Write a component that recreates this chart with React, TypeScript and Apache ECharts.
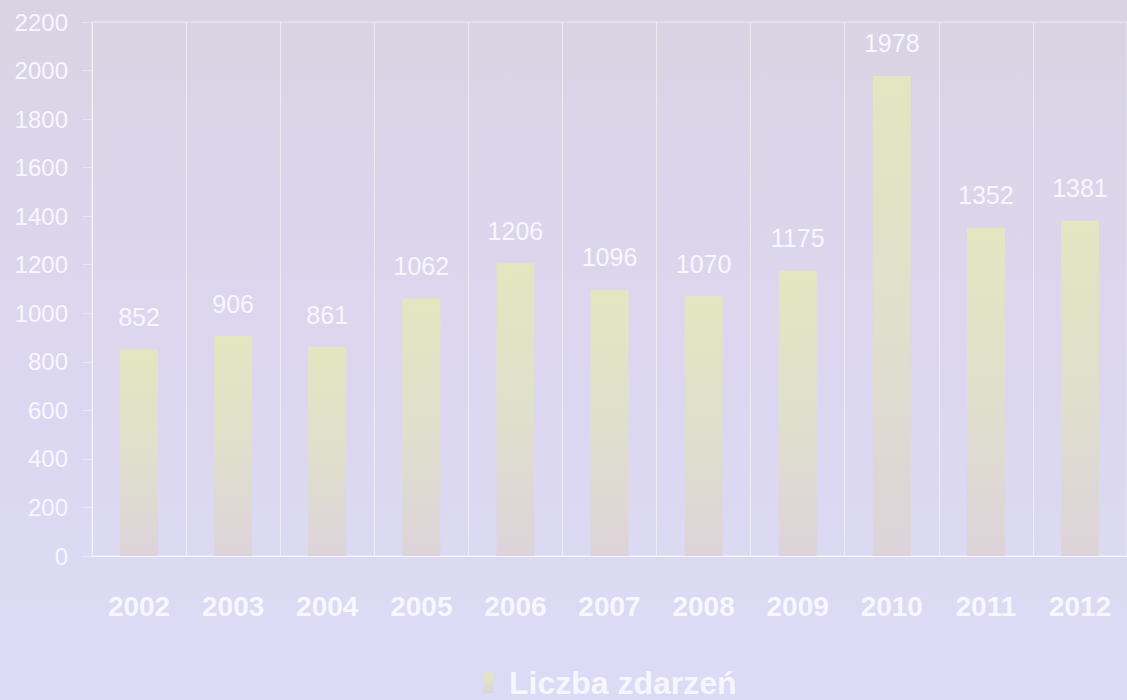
import React, { useEffect, useRef } from "react";
import * as echarts from "echarts";

const categories = ["2002", "2003", "2004", "2005", "2006", "2007", "2008", "2009", "2010", "2011", "2012"];
const values = [852, 906, 861, 1062, 1206, 1096, 1070, 1175, 1978, 1352, 1381];
const seriesName = "Liczba zdarzeń";
const yMin = 0;
const yMax = 2200;
const yStep = 200;

export default function App() {
  const ref = useRef<HTMLDivElement>(null);
  useEffect(() => {
    if (!ref.current) return;
    const chart = echarts.init(ref.current, null, { renderer: "svg" });
    const font = "'Liberation Sans', Arial, sans-serif";
    const barGrad = new echarts.graphic.LinearGradient(0, 0, 0, 1, [
      { offset: 0, color: "#e3e6c0" },
      { offset: 0.5, color: "#dfe0cc" },
      { offset: 1, color: "#ddd3da" },
    ]);
    chart.setOption({
      animation: false,
      backgroundColor: new echarts.graphic.LinearGradient(0, 0, 0, 1, [
        { offset: 0, color: "#d8d4e2" },
        { offset: 0.45, color: "#dcd6ef" },
        { offset: 1, color: "#dcdbf5" },
      ]),
      textStyle: { fontFamily: font },
      grid: {
        left: 92,
        top: 22,
        width: 1037,
        height: 534,
        show: true,
        borderColor: "rgba(255,255,255,0.55)",
        borderWidth: 1,
        backgroundColor: "transparent",
      },
      legend: {
        data: [seriesName],
        left: 478,
        top: 662,
        itemWidth: 11,
        itemHeight: 20,
        icon: "rect",
        textStyle: {
          color: "#f7f6ff",
          fontSize: 32,
          fontWeight: "bold",
          fontFamily: font,
          padding: [0, 0, 0, 10],
        },
      },
      xAxis: {
        type: "category",
        data: categories,
        boundaryGap: true,
        axisLine: { show: true, lineStyle: { color: "rgba(255,255,255,0.6)", width: 1 } },
        axisTick: { show: false },
        splitLine: { show: true, interval: 0, lineStyle: { color: "rgba(255,255,255,0.5)", width: 1 } },
        axisLabel: {
          color: "#f8f7ff",
          fontSize: 28,
          fontWeight: "bold",
          margin: 36,
          interval: 0,
          fontFamily: font,
        },
      },
      yAxis: {
        type: "value",
        min: yMin,
        max: yMax,
        interval: yStep,
        axisLine: { show: false },
        axisTick: { show: true, length: 10, lineStyle: { color: "rgba(255,255,255,0.35)" } },
        splitLine: { show: false },
        axisLabel: {
          color: "#f8f7ff",
          fontSize: 24,
          margin: 24,
          fontFamily: font,
          formatter: (v: number) => String(v),
        },
      },
      series: [
        {
          name: seriesName,
          type: "bar",
          data: values,
          barWidth: 38,
          itemStyle: { color: barGrad },
          label: {
            show: true,
            position: "top",
            distance: 20,
            color: "#f8f7ff",
            fontSize: 25,
            fontFamily: font,
          },
        },
      ],
    });
    return () => chart.dispose();
  }, []);
  return (
    <div
      ref={ref}
      style={{ position: "absolute", left: 0, top: 0, width: 1127, height: 700 }}
    />
  );
}
